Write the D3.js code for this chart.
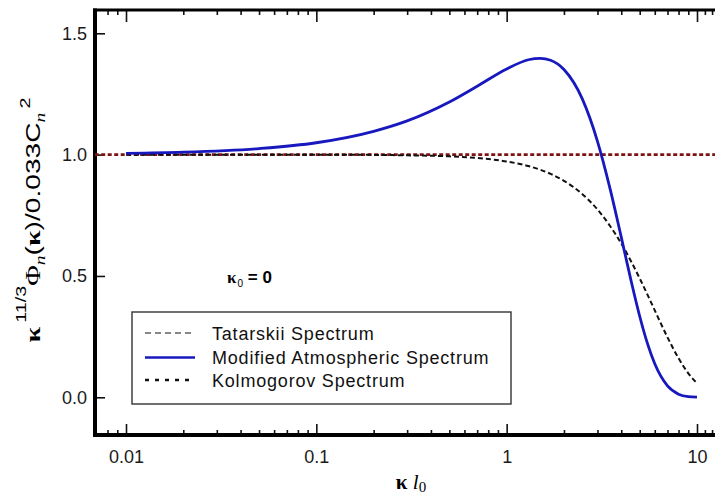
<html>
	<head>
		<meta charset="utf-8">
		<title>Spectrum models</title>
		<style>
			html, body { margin: 0; background: white; }
			body { width: 715px; height: 494px; overflow: hidden; }
			svg { display: block; font-family: "Liberation Sans", Arial, sans-serif; }
			.tick text { font-size: 18px; fill: #1a1a1a; }
			.tick line { stroke: #111; stroke-width: 1.6; }
			.domain { display: none; }
			.frame { stroke: #000; }
			.legendText { font-size: 18px; letter-spacing: 0.8px; fill: #111; }
			.greek { font-family: "Liberation Serif", "DejaVu Serif", serif; font-weight: bold; }
			.ital { font-family: "Liberation Serif", serif; font-style: italic; }
		</style>
	</head>
	<body>
		<div id="chart"></div>

		<script src="https://cdn.jsdelivr.net/npm/d3@7"></script>

		<script>
			// kappa * l0 sample points
			var kl = [0.01, 0.02, 0.05, 0.1, 0.2, 0.3, 0.5, 0.7, 1, 1.3, 1.5, 1.7, 2, 2.5, 3, 3.5, 4, 4.5, 5, 5.5, 6, 7, 8, 9, 10]
			var modified = [1.005, 1.010, 1.025, 1.049, 1.096, 1.139, 1.217, 1.282, 1.353, 1.391, 1.397, 1.389, 1.351, 1.229, 1.055, 0.857, 0.660, 0.482, 0.334, 0.220, 0.138, 0.047, 0.013, 0.003, 0.001]
			var tatarskii = [1.000, 1.000, 1.000, 1.000, 0.999, 0.997, 0.993, 0.986, 0.972, 0.953, 0.938, 0.921, 0.892, 0.837, 0.774, 0.705, 0.634, 0.561, 0.490, 0.422, 0.358, 0.247, 0.161, 0.099, 0.058]
			var kolmoX = [0.005, 20]
			var kolmogorov = [1, 1]

			var xMajor = [0.01, 0.1, 1, 10]
			var xMinor = [0.008, 0.009, 0.02, 0.03, 0.04, 0.05, 0.06, 0.07, 0.08, 0.09,
				0.2, 0.3, 0.4, 0.5, 0.6, 0.7, 0.8, 0.9, 2, 3, 4, 5, 6, 7, 8, 9, 11, 12]
			var yTicks = [0, 0.5, 1.0, 1.5]
			var legendNames = ["Tatarskii Spectrum", "Modified Atmospheric Spectrum", "Kolmogorov Spectrum"]

			var W = 715, H = 494
			var pLeft = 95, pTop = 10, pBottom = 435, pRight = 730

			var x = d3.scaleLog().domain([0.01, 10]).range([126, 697])
			var y = d3.scaleLinear().domain([0, 1.5]).range([397.3, 33.3])

			var svg = d3.select("#chart").append("svg")
				.attr("width", W)
				.attr("height", H)

			svg.append("clipPath").attr("id", "plotClip")
				.append("rect")
				.attr("x", pLeft).attr("y", pTop)
				.attr("width", pRight - pLeft).attr("height", pBottom - pTop)

			// axes: bottom
			svg.append("g")
				.attr("transform", "translate(0," + pBottom + ")")
				.call(d3.axisBottom(x).tickValues(xMajor).tickSizeInner(-11).tickSizeOuter(0).tickPadding(15)
					.tickFormat(function(d) { return d >= 1 ? d3.format("d")(d) : String(d) }))
			svg.append("g")
				.attr("transform", "translate(0," + pBottom + ")")
				.call(d3.axisBottom(x).tickValues(xMinor).tickSizeInner(-5).tickSizeOuter(0).tickFormat(""))

			// top mirror
			svg.append("g")
				.attr("transform", "translate(0," + pTop + ")")
				.call(d3.axisTop(x).tickValues(xMajor).tickSizeInner(-12).tickSizeOuter(0).tickFormat(""))
			svg.append("g")
				.attr("transform", "translate(0," + pTop + ")")
				.call(d3.axisTop(x).tickValues(xMinor).tickSizeInner(-5).tickSizeOuter(0).tickFormat(""))

			// left
			svg.append("g")
				.attr("transform", "translate(" + pLeft + ",0)")
				.call(d3.axisLeft(y).tickValues(yTicks).tickSizeInner(-10).tickSizeOuter(0).tickPadding(8)
					.tickFormat(d3.format(".1f")))

			// frame
			svg.append("line").attr("class", "frame")
				.attr("x1", pLeft).attr("x2", pLeft).attr("y1", pTop - 1.5).attr("y2", pBottom + 2)
				.attr("stroke-width", 4)
			svg.append("line").attr("class", "frame")
				.attr("x1", pLeft - 2).attr("x2", pRight).attr("y1", pBottom).attr("y2", pBottom)
				.attr("stroke-width", 4)
			svg.append("line").attr("class", "frame")
				.attr("x1", pLeft - 2).attr("x2", pRight).attr("y1", pTop).attr("y2", pTop)
				.attr("stroke-width", 3)

			var line = d3.line()
				.x(function(d) { return x(d[0]) })
				.y(function(d) { return y(d[1]) })
				.curve(d3.curveMonotoneX)

			var plot = svg.append("g").attr("clip-path", "url(#plotClip)")

			plot.append("path")
				.datum(d3.zip(kolmoX, kolmogorov))
				.attr("d", line)
				.attr("fill", "none")
				.attr("stroke", "#7d1414")
				.attr("stroke-width", 2.6)
				.attr("stroke-dasharray", "4,2.5")

			plot.append("path")
				.datum(d3.zip(kl, tatarskii))
				.attr("d", line)
				.attr("fill", "none")
				.attr("stroke", "#111")
				.attr("stroke-width", 2)
				.attr("stroke-dasharray", "5,3")

			plot.append("path")
				.datum(d3.zip(kl, modified))
				.attr("d", line)
				.attr("fill", "none")
				.attr("stroke", "#1818bf")
				.attr("stroke-width", 2.8)

			// legend
			var legend = svg.append("g")
			legend.append("rect")
				.attr("x", 132).attr("y", 312)
				.attr("width", 379).attr("height", 92)
				.attr("fill", "white")
				.attr("stroke", "#333")
				.attr("stroke-width", 1.4)

			var legendStyle = [
				{ stroke: "#111", width: 1.2, dash: "6,4" },
				{ stroke: "#1818bf", width: 2.6, dash: null },
				{ stroke: "#111", width: 2.6, dash: "4,6" }
			]
			var rowY = [333, 357.5, 380]

			legend.selectAll(".legLine")
				.data(legendNames)
				.enter()
				.append("line")
				.attr("x1", 145).attr("x2", 195)
				.attr("y1", function(d, i) { return rowY[i] })
				.attr("y2", function(d, i) { return rowY[i] })
				.attr("stroke", function(d, i) { return legendStyle[i].stroke })
				.attr("stroke-width", function(d, i) { return legendStyle[i].width })
				.attr("stroke-dasharray", function(d, i) { return legendStyle[i].dash })

			legend.selectAll(".legendText")
				.data(legendNames)
				.enter()
				.append("text")
				.attr("class", "legendText")
				.attr("x", 212)
				.attr("y", function(d, i) { return rowY[i] + 6.5 })
				.text(function(d) { return d })

			// kappa_0 = 0 note
			var note = svg.append("text")
				.attr("x", 227).attr("y", 283)
				.attr("font-size", 17)
			note.append("tspan").attr("class", "greek").text("κ")
			note.append("tspan").attr("font-size", 10).attr("dy", 4).attr("dx", 1).text("0")
			note.append("tspan").attr("dy", -4).attr("font-weight", "bold").text(" = 0")

			// x label
			var xl = svg.append("text")
				.attr("x", 411).attr("y", 489)
				.attr("text-anchor", "middle")
				.attr("font-size", 21)
			xl.append("tspan").attr("class", "greek").text("κ ")
			xl.append("tspan").attr("class", "ital").text("l")
			xl.append("tspan").attr("font-size", 15).attr("dy", 3).attr("font-family", "Liberation Serif, serif").text("0")

			// y label
			var yl = svg.append("text")
				.attr("transform", "translate(40,220) rotate(-90)")
				.attr("text-anchor", "middle")
				.attr("font-size", 20)
				.attr("textLength", 245)
				.attr("lengthAdjust", "spacingAndGlyphs")
			yl.append("tspan").attr("class", "greek").text("κ")
			yl.append("tspan").attr("font-size", 14).attr("dy", -14).attr("dx", 3).text("11/3")
			yl.append("tspan").attr("dy", 14).attr("font-family", "Liberation Serif, serif").text("Φ")
			yl.append("tspan").attr("font-size", 14).attr("dy", 5).attr("class", "ital").text("n")
			yl.append("tspan").attr("dy", -5).text("(")
			yl.append("tspan").attr("class", "greek").text("κ")
			yl.append("tspan").text(")/0.033C")
			yl.append("tspan").attr("font-size", 14).attr("dy", 5).attr("class", "ital").text("n")
			yl.append("tspan").attr("font-size", 14).attr("dy", -15).attr("dx", 3).text("2")
		</script>
	</body>
</html>
